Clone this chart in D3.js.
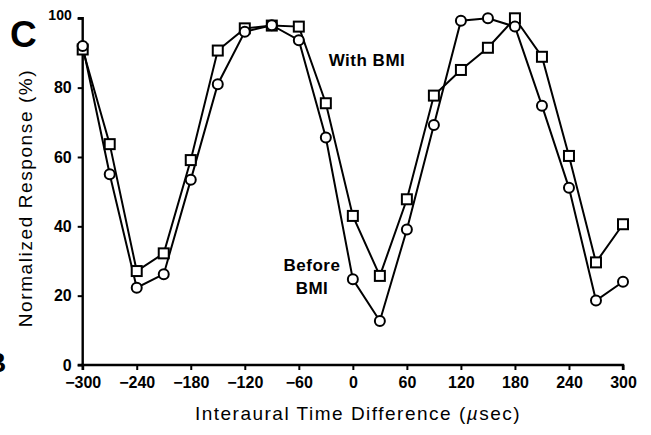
<!DOCTYPE html>
<html>
<head>
<meta charset="utf-8">
<script src="https://cdn.jsdelivr.net/npm/d3@7/dist/d3.min.js"></script>
<style>
  html, body { margin: 0; padding: 0; background: #fff; }
  svg { display: block; }
  text { font-family: "Liberation Sans", Arial, Helvetica, sans-serif; fill: #000; }
</style>
</head>
<body>
<svg id="chart" width="651" height="435"></svg>
<script>
// Interaural time difference (µs) for each stimulus
const itd = [-300, -270, -240, -210, -180, -150, -120, -90, -60, -30, 0, 30, 60, 90, 120, 150, 180, 210, 240, 270, 300];
// Normalized response (%) before and with BMI
const beforeBMI = [92, 55, 22.3, 26.2, 53.4, 81, 96.1, 98, 93.7, 65.6, 24.7, 12.7, 39.1, 69.2, 99.3, 100, 97.6, 74.8, 51.1, 18.6, 24];
const withBMI = [91, 63.7, 27.1, 32.2, 59.1, 90.7, 97.1, 97.9, 97.6, 75.5, 43, 25.7, 47.8, 77.7, 85.1, 91.5, 100, 88.9, 60.3, 29.6, 40.6];
const xTicks = [-300, -240, -180, -120, -60, 0, 60, 120, 180, 240, 300];
const yTicks = [0, 20, 40, 60, 80, 100];

const svg = d3.select("#chart");
const x = d3.scaleLinear().domain([-300, 300]).range([82.7, 623]);
const y = d3.scaleLinear().domain([0, 100]).range([365, 18.3]);

const fmt = d => d < 0 ? "\u2212" + Math.abs(d) : String(d);

// Axes
const xAxis = svg.append("g")
  .attr("transform", `translate(0,${y(0)})`)
  .call(d3.axisBottom(x).tickValues(xTicks).tickSize(5).tickPadding(7).tickFormat(fmt));
const yAxis = svg.append("g")
  .attr("transform", `translate(${x(-300)},0)`)
  .call(d3.axisLeft(y).tickValues(yTicks).tickSize(5).tickPadding(6));

[xAxis, yAxis].forEach(g => {
  g.select(".domain").attr("stroke", "#000").attr("stroke-width", 2.4);
  g.selectAll(".tick line").attr("stroke", "#000").attr("stroke-width", 2);
  g.selectAll(".tick text")
    .style("font-family", '"Liberation Sans", Arial, sans-serif')
    .style("font-size", "16px").style("font-weight", "bold").attr("fill", "#000");
});
xAxis.select(".domain").attr("d", `M${x(-300)},5V0H${x(300)}V5`);
yAxis.select(".domain").attr("d", `M-5,${y(100)}H0V${y(0)}H-5`);
yAxis.selectAll(".tick").filter(d => d === 100).select("text")
  .style("font-size", "14px").attr("dy", "0.1em");

// Lines
const line = vals => d3.line().x((d, i) => x(itd[i])).y(d => y(d))(vals);
svg.append("path").attr("d", line(beforeBMI))
  .attr("fill", "none").attr("stroke", "#000").attr("stroke-width", 2);
svg.append("path").attr("d", line(withBMI))
  .attr("fill", "none").attr("stroke", "#000").attr("stroke-width", 2);

// Markers: squares for With BMI, circles for Before BMI
svg.append("g").selectAll("rect").data(withBMI).join("rect")
  .attr("x", (d, i) => x(itd[i]) - 5).attr("y", d => y(d) - 5)
  .attr("width", 10).attr("height", 10)
  .attr("fill", "#fff").attr("stroke", "#000").attr("stroke-width", 2);
svg.append("g").selectAll("circle").data(beforeBMI).join("circle")
  .attr("cx", (d, i) => x(itd[i])).attr("cy", d => y(d)).attr("r", 5)
  .attr("fill", "#fff").attr("stroke", "#000").attr("stroke-width", 2);

// Series labels
const label = (tx, ty, s) => svg.append("text").attr("x", tx).attr("y", ty)
  .attr("text-anchor", "middle")
  .style("font-size", "17px").style("font-weight", "bold").style("letter-spacing", "0.5px")
  .text(s);
label(367, 66, "With BMI");
label(312, 271, "Before");
label(312, 294, "BMI");

// Axis titles
const xt = svg.append("text").attr("x", 358).attr("y", 420).attr("text-anchor", "middle")
  .style("font-size", "19px").style("letter-spacing", "1.5px");
xt.append("tspan").text("Interaural Time Difference (");
xt.append("tspan").style("font-style", "italic").text("\u00b5");
xt.append("tspan").text("sec)");
svg.append("text").attr("transform", "translate(32,198) rotate(-90)").attr("text-anchor", "middle")
  .style("font-size", "19px").style("letter-spacing", "1.6px")
  .text("Normalized Response (%)");

// Panel letters
svg.append("text").attr("x", 10).attr("y", 47)
  .style("font-size", "37px").style("font-weight", "bold").text("C");
svg.append("text").attr("x", -14).attr("y", 372)
  .style("font-size", "28px").style("font-weight", "bold").text("B");
</script>
</body>
</html>
